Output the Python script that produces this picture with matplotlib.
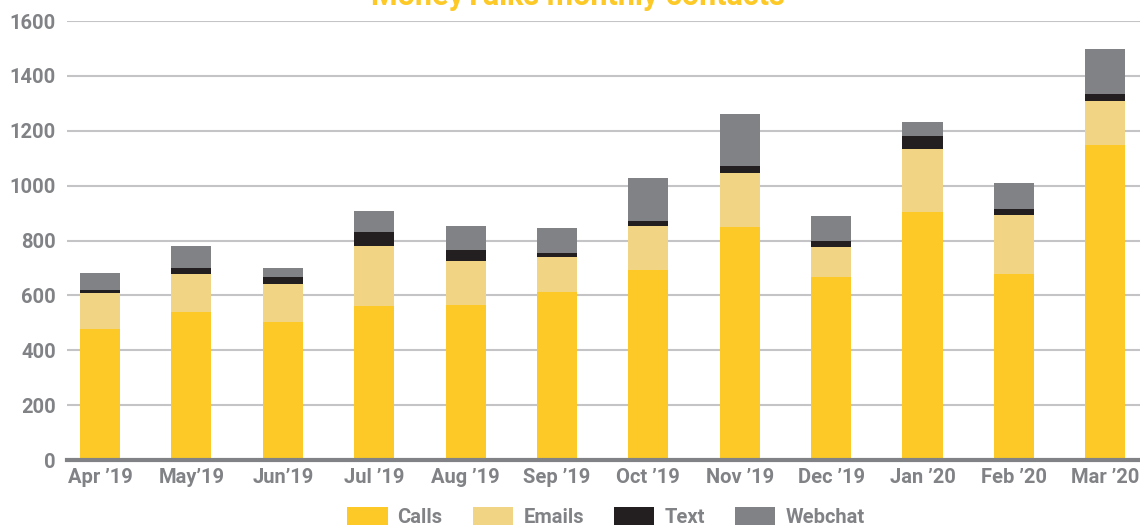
import matplotlib.pyplot as plt
import numpy as np

# Data
months = ['Apr \u201919', 'May\u201919', 'Jun\u201919', 'Jul \u201919', 'Aug \u201919', 'Sep \u201919',
          'Oct \u201919', 'Nov \u201919', 'Dec \u201919', 'Jan \u201920', 'Feb \u201920', 'Mar \u201920']
calls = [477, 539, 503, 562, 565, 612, 692, 849, 667, 904, 678, 1148]
emails = [132, 139, 138, 218, 160, 128, 161, 197, 109, 229, 215, 160]
text = [10, 22, 26, 51, 40, 14, 18, 25, 22, 48, 22, 26]
webchat = [62, 80, 33, 76, 88, 91, 157, 190, 91, 51, 94, 164]

plt.rcParams['font.family'] = ['Roboto', 'DejaVu Sans']
grey = '#808285'
colors = ['#fcc926', '#f1d585', '#231f20', '#808285']

fig = plt.figure(figsize=(11.4, 5.28), dpi=100)
ax = fig.add_axes([67 / 1140, 68 / 528, 1 - 67 / 1140, 439 / 528])

x = np.arange(len(months))
bottom = np.zeros(len(months))
series = [('Calls', calls), ('Emails', emails), ('Text', text), ('Webchat', webchat)]
for (name, vals), c in zip(series, colors):
    ax.bar(x, vals, width=0.438, bottom=bottom, color=c, label=name, zorder=3)
    bottom += np.array(vals)

ax.set_ylim(0, 1600)
ax.set_xlim(-0.361, 11.38)
ax.set_yticks(range(0, 1601, 200))
ax.set_xticks(x)
ax.set_xticklabels(months)
ax.grid(axis='y', color='#c4c4c6', linewidth=1.5, zorder=0)
for s in ['top', 'right', 'left']:
    ax.spines[s].set_visible(False)
ax.spines['bottom'].set_color(grey)
ax.spines['bottom'].set_linewidth(3)
ax.spines['bottom'].set_zorder(4)
ax.tick_params(length=0, colors=grey, labelsize=14.5)
ax.tick_params(axis='y', pad=8)
ax.tick_params(axis='x', pad=6)
for lbl in ax.get_xticklabels() + ax.get_yticklabels():
    lbl.set_fontweight('bold')

fig.text(578 / 1140, 1 - 5 / 528, 'MoneyTalks monthly contacts', color='#fcc926',
         fontsize=22, fontweight='bold', ha='center', va='baseline')

leg = fig.legend(loc='center', bbox_to_anchor=(606 / 1140, 1 - 517 / 528), ncol=4,
                 frameon=False, fontsize=14.5, handlelength=2.0, handleheight=1.0,
                 handletextpad=0.5, columnspacing=1.5, borderaxespad=0, borderpad=0)
for t in leg.get_texts():
    t.set_color(grey)
    t.set_fontweight('bold')

fig.savefig('out.png', dpi=100)
